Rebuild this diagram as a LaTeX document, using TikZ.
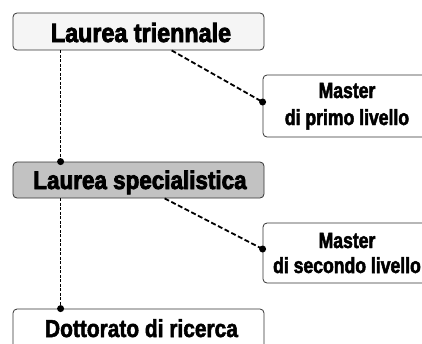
\documentclass[tikz,border=0pt]{standalone}
\usepackage{fontspec}
\setmainfont{Liberation Sans}
\newfontface\fA[FakeStretch=0.88,FakeBold=3]{Liberation Sans Bold}
\newfontface\fB[FakeStretch=0.85,FakeBold=2]{Liberation Sans Bold}
\newfontface\fC[FakeStretch=0.8,FakeBold=2.2]{Liberation Sans Bold}
\begin{document}
\begin{tikzpicture}[x=1pt,y=-1pt,
  box/.style={draw=black!80, line width=0.8pt, rounded corners=4pt, inner sep=0pt},
  conn/.style={draw=black, line width=1.8pt, dash pattern=on 5pt off 2.5pt},
  vconn/.style={draw=black, line width=1.4pt, dash pattern=on 3pt off 1.5pt},
  dot/.style={circle, fill=black, inner sep=0pt, minimum size=7pt},
  big/.style={anchor=base, inner sep=0pt},
  small/.style={anchor=base, inner sep=0pt, font=\fC\fontsize{22}{26}\selectfont}]
\useasboundingbox (0,0) rectangle (422,343);
\clip (0,0) rectangle (422,343);
% boxes
\node[box, fill=black!4, minimum width=251pt, minimum height=37pt] (b1) at (138.5,31.5) {};
\node[box, fill=black!24, minimum width=251pt, minimum height=36pt] (b2) at (138.5,180) {};
\node[box, fill=white, minimum width=251pt, minimum height=51pt] (b3) at (138.5,334.5) {};
\node[box, fill=white, minimum width=200pt, minimum height=62pt] (m1) at (363,106) {};
\node[box, fill=white, minimum width=200pt, minimum height=60pt] (m2) at (363,253) {};
% texts
\node[big, font=\fA\fontsize{26.5}{30}\selectfont] (t1) at (141,42) {Laurea triennale};
\node[big, font=\fA\fontsize{25.5}{30}\selectfont] (t2) at (140,189) {Laurea specialistica};
\node[big, font=\fB\fontsize{24.6}{28}\selectfont] (t3) at (141.5,337) {Dottorato di ricerca};
\node[small] (t4) at (347,98) {Master};
\node[small] (t5) at (347,125) {di primo livello};
\node[small] (t6) at (347,248) {Master};
\node[small] (t7) at (347,273) {di secondo livello};
% connectors
\node[dot] (d1) at ([xshift=48pt]b2.north west) {};
\node[dot] (d2) at ([xshift=48pt]b3.north west) {};
\node[dot] (d3) at ([yshift=4pt]m1.west) {};
\node[dot] (d4) at ([yshift=4pt]m2.west) {};
\draw[vconn] ([xshift=48pt]b1.south west) -- (d1.center);
\draw[vconn] ([xshift=48pt]b2.south west) -- (d2.center);
\draw[conn] ([xshift=159pt]b1.south west) -- (d3.center);
\draw[conn] ([xshift=152pt]b2.south west) -- (d4.center);
\end{tikzpicture}
\end{document}
